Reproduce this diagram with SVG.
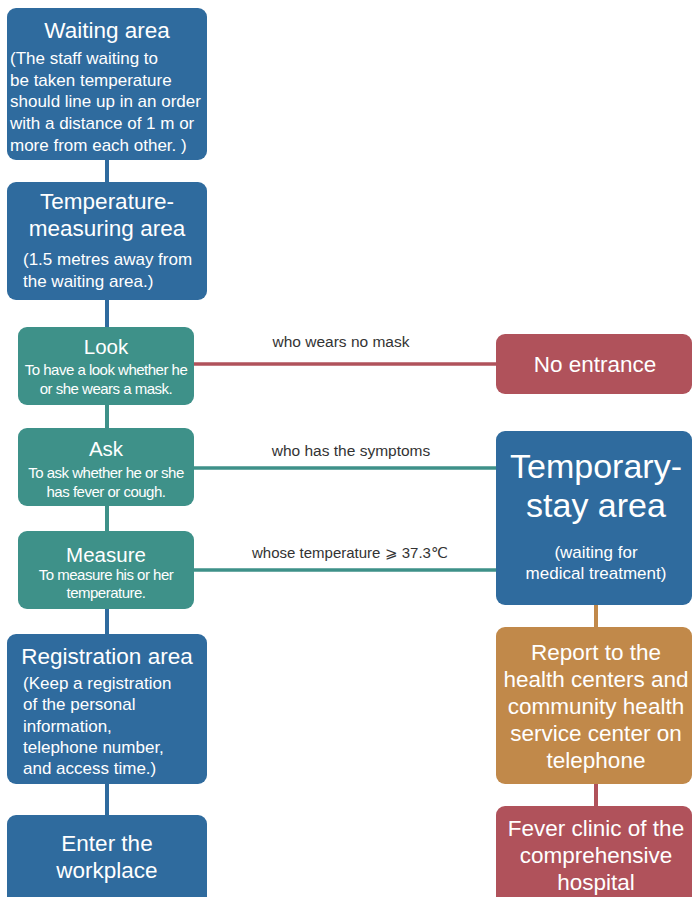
<svg xmlns="http://www.w3.org/2000/svg" width="692" height="897" viewBox="0 0 692 897">
<style>
.blue{fill:#2f6b9e}
.teal{fill:#3e9189}
.red{fill:#b0525b}
.orange{fill:#c1894a}
text{font-family:"Liberation Sans",Arial,sans-serif;fill:#fff}
.t20{font-size:22.5px;text-anchor:middle}
.t15{font-size:17px}
.t15c{font-size:17px;text-anchor:middle}
.t18{font-size:20.5px;text-anchor:middle}
.t13{font-size:15px;text-anchor:middle;letter-spacing:-0.5px}
.t30{font-size:34px;text-anchor:middle}
.lbl{font-size:15.5px;text-anchor:middle;fill:#333}
</style>
<rect width="692" height="897" fill="#fff"/>
<g id="connectors">
<line x1="107" y1="160" x2="107" y2="182" stroke="#2f6b9e" stroke-width="4"/>
<line x1="107" y1="300" x2="107" y2="327" stroke="#2f6b9e" stroke-width="4"/>
<line x1="107" y1="405" x2="107" y2="428" stroke="#3e9189" stroke-width="4"/>
<line x1="107" y1="506" x2="107" y2="531" stroke="#3e9189" stroke-width="4"/>
<line x1="107" y1="609" x2="107" y2="634" stroke="#2f6b9e" stroke-width="4"/>
<line x1="107" y1="784" x2="107" y2="815" stroke="#2f6b9e" stroke-width="4"/>
<line x1="194" y1="364" x2="496" y2="364" stroke="#b0525b" stroke-width="3.5"/>
<line x1="194" y1="468" x2="496" y2="468" stroke="#3e9189" stroke-width="3.5"/>
<line x1="194" y1="570" x2="496" y2="570" stroke="#3e9189" stroke-width="3.5"/>
<line x1="596" y1="605" x2="596" y2="627" stroke="#c1894a" stroke-width="4"/>
<line x1="596" y1="784" x2="596" y2="806" stroke="#b0525b" stroke-width="4"/>
<text class="lbl" x="341" y="347">who wears no mask</text>
<text class="lbl" x="351" y="456">who has the symptoms</text>
<text class="lbl" x="350" y="558" style="font-size:15px">whose temperature ⩾ 37.3℃</text>
</g>
<g id="waiting">
<rect class="blue" x="7" y="8" width="200" height="152" rx="9"/>
<text class="t20" x="107" y="38">Waiting area</text>
<text class="t15" x="10" y="64">(The staff waiting to</text>
<text class="t15" x="10" y="86">be taken temperature</text>
<text class="t15" x="10" y="107">should line up in an order</text>
<text class="t15" x="10" y="129">with a distance of 1 m or</text>
<text class="t15" x="10" y="151">more from each other. )</text>
</g>
<g id="tempmeasure">
<rect class="blue" x="7" y="182" width="200" height="118" rx="9"/>
<text class="t20" x="107" y="209">Temperature-</text>
<text class="t20" x="107" y="236">measuring area</text>
<text class="t15" x="23" y="265">(1.5 metres away from</text>
<text class="t15" x="23" y="287">the waiting area.)</text>
</g>
<g id="look">
<rect class="teal" x="18" y="327" width="176" height="78" rx="9"/>
<text class="t18" x="106" y="354">Look</text>
<text class="t13" x="106" y="375">To have a look whether he</text>
<text class="t13" x="106" y="394">or she wears a mask.</text>
</g>
<g id="ask">
<rect class="teal" x="18" y="428" width="176" height="78" rx="9"/>
<text class="t18" x="106" y="456">Ask</text>
<text class="t13" x="106" y="478">To ask whether he or she</text>
<text class="t13" x="106" y="497">has fever or cough.</text>
</g>
<g id="measure">
<rect class="teal" x="18" y="531" width="176" height="78" rx="9"/>
<text class="t18" x="106" y="562">Measure</text>
<text class="t13" x="106" y="580">To measure his or her</text>
<text class="t13" x="106" y="598">temperature.</text>
</g>
<g id="registration">
<rect class="blue" x="7" y="634" width="200" height="150" rx="9"/>
<text class="t20" x="107" y="664">Registration area</text>
<text class="t15" x="23" y="689">(Keep a registration</text>
<text class="t15" x="23" y="710">of the personal</text>
<text class="t15" x="23" y="732">information,</text>
<text class="t15" x="23" y="753">telephone number,</text>
<text class="t15" x="23" y="774">and access time.)</text>
</g>
<g id="enter">
<rect class="blue" x="7" y="815" width="200" height="90" rx="9"/>
<text class="t20" x="107" y="851">Enter the</text>
<text class="t20" x="107" y="878">workplace</text>
</g>
<g id="noentrance">
<rect class="red" x="496" y="334" width="196" height="60" rx="9"/>
<text class="t20" x="595" y="372">No entrance</text>
</g>
<g id="temporary">
<rect class="blue" x="496" y="431" width="196" height="174" rx="9"/>
<text class="t30" x="596" y="478">Temporary-</text>
<text class="t30" x="596" y="517">stay area</text>
<text class="t15c" x="596" y="558">(waiting for</text>
<text class="t15c" x="596" y="579">medical treatment)</text>
</g>
<g id="report">
<rect class="orange" x="496" y="627" width="196" height="157" rx="9"/>
<text class="t20" x="596" y="660">Report to the</text>
<text class="t20" x="596" y="687">health centers and</text>
<text class="t20" x="596" y="714">community health</text>
<text class="t20" x="596" y="741">service center on</text>
<text class="t20" x="596" y="768">telephone</text>
</g>
<g id="fever">
<rect class="red" x="496" y="806" width="196" height="100" rx="9"/>
<text class="t20" x="596" y="836">Fever clinic of the</text>
<text class="t20" x="596" y="863">comprehensive</text>
<text class="t20" x="596" y="890">hospital</text>
</g>
</svg>
